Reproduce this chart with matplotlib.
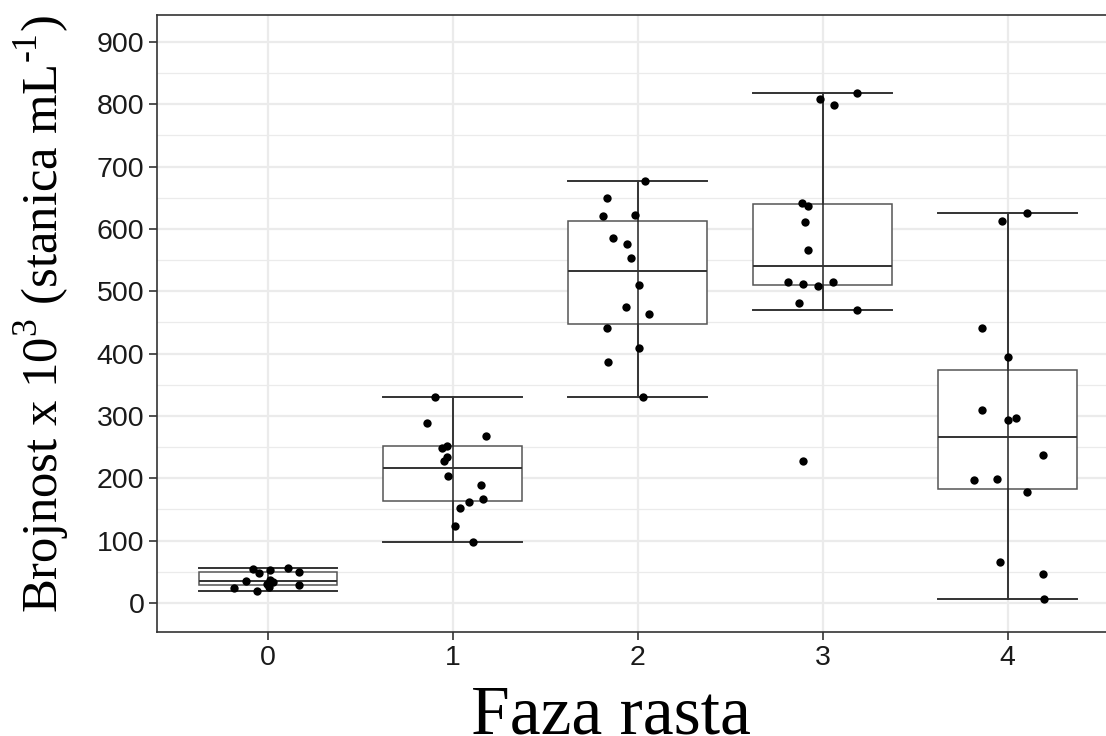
import numpy as np
import matplotlib
matplotlib.use("Agg")
import matplotlib.pyplot as plt
from matplotlib import cbook

# growth phases on the x axis
phases = ["0", "1", "2", "3", "4"]

# cell counts (x 10^3 cells per mL) for each phase
counts_0 = [54.5, 47.6, 53.0, 55.7, 50.2, 35.3, 24.5, 36.9, 34.2, 30.0, 26.2, 28.9, 19.3]
counts_1 = [330.0, 289.3, 267.4, 249.0, 251.9, 234.7, 228.3, 203.8, 189.8, 166.4, 162.0, 152.4, 124.0, 97.9]
counts_2 = [677.0, 649.3, 621.0, 622.5, 585.0, 576.0, 554.0, 510.0, 475.0, 464.0, 441.7, 409.6, 387.0, 330.0]
counts_3 = [818.7, 808.0, 798.5, 641.0, 637.0, 611.8, 565.9, 514.5, 511.8, 508.6, 515.0, 480.8, 470.0, 228.3]
counts_4 = [625.2, 612.9, 440.7, 394.2, 309.6, 293.6, 297.3, 237.4, 197.3, 199.5, 178.6, 66.3, 46.0, 5.9]

# horizontal jitter of each point around its phase
jitter_0 = [-0.079, -0.047, 0.011, 0.106, 0.168, -0.119, -0.184, 0.011, 0.029, -0.007, 0.007, 0.169, -0.058]
jitter_1 = [-0.097, -0.137, 0.182, -0.061, -0.034, -0.034, -0.049, -0.025, 0.151, 0.161, 0.088, 0.039, 0.011, 0.110]
jitter_2 = [0.042, -0.166, -0.188, -0.015, -0.134, -0.056, -0.036, 0.009, -0.066, 0.063, -0.168, 0.007, -0.161, 0.031]
jitter_3 = [0.184, -0.014, 0.061, -0.111, -0.077, -0.094, -0.077, -0.189, -0.108, -0.027, 0.056, -0.126, 0.184, -0.106]
jitter_4 = [0.107, -0.031, -0.136, 0.004, -0.139, 0.001, 0.046, 0.194, -0.181, -0.058, 0.105, -0.041, 0.190, 0.196]

counts = [counts_0, counts_1, counts_2, counts_3, counts_4]
jitters = [jitter_0, jitter_1, jitter_2, jitter_3, jitter_4]

plt.rcParams["font.family"] = ["Liberation Sans", "DejaVu Sans"]
plt.rcParams["mathtext.fontset"] = "custom"
plt.rcParams["mathtext.rm"] = "Liberation Serif"

fig = plt.figure(figsize=(11.06, 7.36), dpi=100)
ax = fig.add_axes([0.14195, 0.1413, 0.8693, 0.8383])

positions = np.arange(len(phases))
box_w = 0.75
stats = cbook.boxplot_stats(counts, whis=1.5)

ax.bxp(stats, positions=positions, widths=box_w, showfliers=False,
       patch_artist=True, capwidths=box_w,
       boxprops=dict(facecolor="white", edgecolor="#555555", linewidth=1.1),
       medianprops=dict(color="#333333", linewidth=1.4),
       whiskerprops=dict(color="#333333", linewidth=1.2),
       capprops=dict(color="#333333", linewidth=1.4),
       zorder=2)

# errorbar style whisker runs straight through the box
ax.vlines(positions, [s["whislo"] for s in stats], [s["whishi"] for s in stats],
          color="#333333", linewidth=1.2, zorder=3)

for pos, vals, jit in zip(positions, counts, jitters):
    ax.scatter(pos + np.array(jit), vals, s=36, color="black", zorder=4, linewidths=0)

ax.set_xlim(-0.6, 4.6)
ax.set_ylim(-46.5, 943)
ax.set_xticks(positions)
ax.set_xticklabels(phases)
ax.set_yticks(np.arange(0, 901, 100))
ax.set_yticks(np.arange(50, 901, 100), minor=True)

ax.set_axisbelow(True)
ax.grid(which="major", color="#ebebeb", linewidth=1.6)
ax.grid(which="minor", axis="y", color="#ebebeb", linewidth=0.9)
ax.tick_params(axis="both", which="major", length=6, width=1.2, color="#333333",
               labelsize=20.5, labelcolor="#1a1a1a", pad=3)
ax.tick_params(axis="both", which="minor", length=0)
for sp in ax.spines.values():
    sp.set_color("#333333")
    sp.set_linewidth(1.2)

ax.set_xlabel("Faza rasta", fontsize=50, family="Liberation Serif")
ax.xaxis.set_label_coords(0.472, -0.165)
ax.xaxis.label.set_va("baseline")

ax.set_ylabel("Brojnost x 10$^{3}$ (stanica mL$^{\u2010 1}$)",
              fontsize=36.5, family="Liberation Serif")
ax.yaxis.set_label_coords(-0.088, 0.515)

fig.savefig("out.png", dpi=100)
